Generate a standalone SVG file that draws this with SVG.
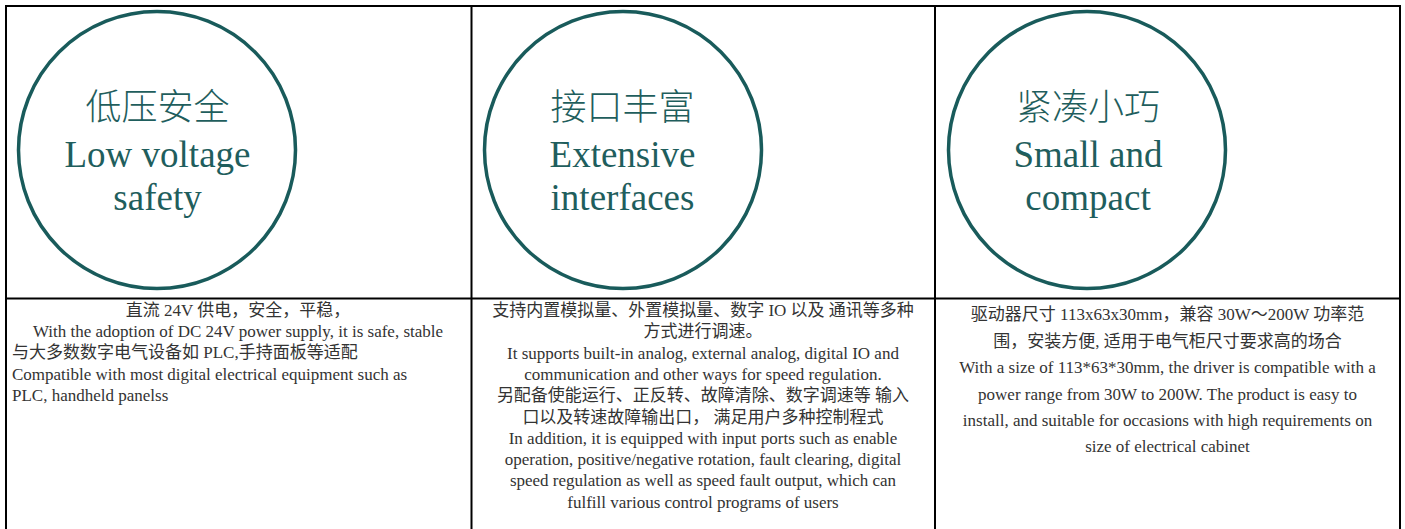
<svg xmlns="http://www.w3.org/2000/svg" width="1405" height="529" viewBox="0 0 1405 529">
<style>
.grid{stroke:#000;stroke-width:2;fill:none}
.ring{fill:none;stroke:#195b5b;stroke-width:3.5}
.tzh{font-family:"Noto Sans CJK SC",sans-serif;font-weight:300;font-size:36px;fill:#1f5e5d;text-anchor:middle}
.ten{font-family:"Liberation Serif","Noto Sans CJK SC",serif;font-size:37px;fill:#1f5e5d;text-anchor:middle}
.body{font-family:"Liberation Serif","Noto Sans CJK SC",serif;font-size:17px;fill:#333}
.c{text-anchor:middle}
</style>
<rect width="1405" height="529" fill="#fff"/>
<g id="table">
<path class="grid" d="M6,530 V6 H1400 V530 M6,298.5 H1400 M471.5,6 V530 M935,6 V530"/>
</g>
<g id="node-low-voltage">
<circle class="ring" cx="157" cy="150" r="138.5"/>
<text class="tzh" x="157.5" y="120">低压安全</text>
<text class="ten" x="157.5" y="167">Low voltage</text>
<text class="ten" x="157.5" y="210">safety</text>
<text class="body c" x="238" y="316">直流 24V 供电，安全，平稳，</text>
<text class="body c" x="238" y="337"> With the adoption of DC 24V power supply, it is safe, stable</text>
<text class="body" x="12" y="358">与大多数数字电气设备如 PLC,手持面板等适配</text>
<text class="body" x="12" y="380">Compatible with most digital electrical equipment such as</text>
<text class="body" x="12" y="401">PLC, handheld panelss</text>
</g>
<g id="node-interfaces">
<circle class="ring" cx="623" cy="150" r="138.5"/>
<text class="tzh" x="622.5" y="120">接口丰富</text>
<text class="ten" x="622.5" y="167">Extensive</text>
<text class="ten" x="622.5" y="210">interfaces</text>
<text class="body c" x="703" y="316">支持内置模拟量、外置模拟量、数字 IO 以及 通讯等多种</text>
<text class="body c" x="703" y="337.3">方式进行调速。</text>
<text class="body c" x="703" y="358.6">It supports built-in analog, external analog, digital IO and</text>
<text class="body c" x="703" y="380">communication and other ways for speed regulation.</text>
<text class="body c" x="703" y="401.2">另配备使能运行、正反转、故障清除、数字调速等 输入</text>
<text class="body c" x="703" y="422.5">口以及转速故障输出口， 满足用户多种控制程式</text>
<text class="body c" x="703" y="443.8">In addition, it is equipped with input ports such as enable</text>
<text class="body c" x="703" y="465.1">operation, positive/negative rotation, fault clearing, digital</text>
<text class="body c" x="703" y="486.4">speed regulation as well as speed fault output, which can</text>
<text class="body c" x="703" y="507.7">fulfill various control programs of users</text>
</g>
<g id="node-compact">
<circle class="ring" cx="1087" cy="150" r="138.5"/>
<text class="tzh" x="1088" y="120">紧凑小巧</text>
<text class="ten" x="1088" y="167">Small and</text>
<text class="ten" x="1088" y="210">compact</text>
<text class="body c" x="1167.5" y="320">驱动器尺寸 113x63x30mm，兼容 30W〜200W 功率范</text>
<text class="body c" x="1167.5" y="346.5">围，安装方便, 适用于电气柜尺寸要求高的场合</text>
<text class="body c" x="1167.5" y="373">With a size of 113*63*30mm, the driver is compatible with a</text>
<text class="body c" x="1167.5" y="399.5">power range from 30W to 200W. The product is easy to</text>
<text class="body c" x="1167.5" y="426">install, and suitable for occasions with high requirements on</text>
<text class="body c" x="1167.5" y="452">size of electrical cabinet</text>
</g>
<g id="connectors"/>
</svg>
